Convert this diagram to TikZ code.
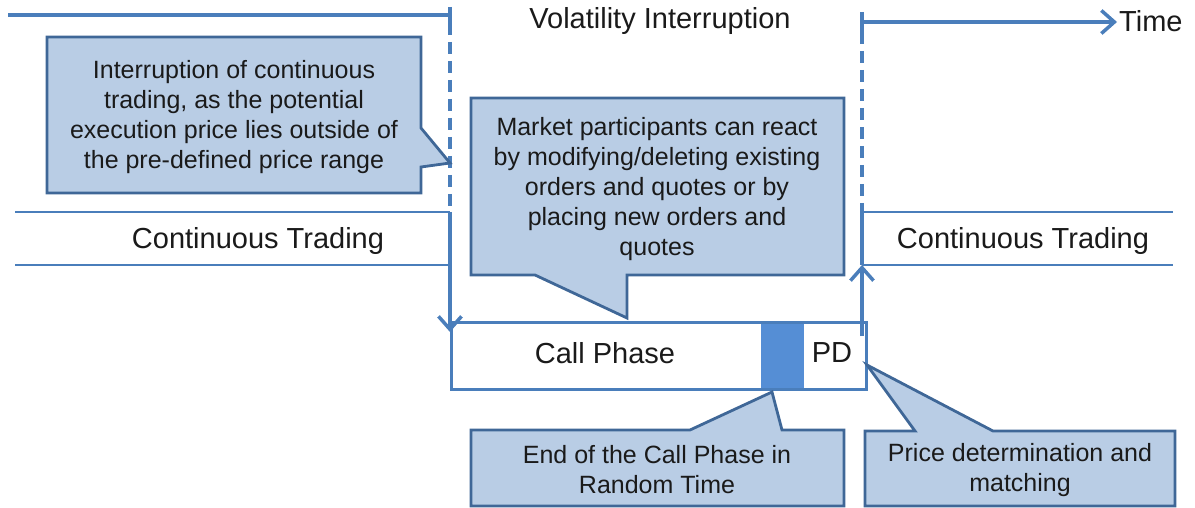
\documentclass[tikz,border=0pt]{standalone}
\usepackage{fontspec}
\setmainfont{Liberation Sans}
\usetikzlibrary{arrows.meta}
\definecolor{lineblue}{HTML}{4A7EBB}
\definecolor{callfill}{HTML}{B9CDE5}
\definecolor{callborder}{HTML}{3F6797}
\definecolor{phasefill}{HTML}{558ED5}
\definecolor{txt}{HTML}{1A1A1A}
\begin{document}
\begin{tikzpicture}[x=1pt,y=-1pt,
  bigtext/.style={font=\fontsize{29}{34}\selectfont, text=txt, inner sep=0pt},
  calltext/.style={font=\fontsize{25}{30}\selectfont, text=txt, align=center, inner sep=0pt},
  calloutshape/.style={fill=callfill, draw=callborder, line width=2.8pt, line join=miter},
  tline/.style={draw=lineblue, line width=3.5pt},
  dline/.style={draw=lineblue, line width=3.5pt, dash pattern=on 12pt off 7pt},
  lane/.style={draw=lineblue, line width=2.5pt},
  arr/.style={-{Straight Barb[length=13pt,width=23pt,line width=3.5pt]}}
]
\useasboundingbox (0,0) rectangle (1195,508);

% timeline
\coordinate (tlA) at (8,15);
\coordinate (tlB) at (450,15);
\coordinate (tlC) at (862,22);
\coordinate (tlD) at (1117,22);
\draw[tline] (tlA) -- (tlB);
\draw[tline] (450,7) -- (450,23);
\draw[tline] (862,12) -- (862,32);
\draw[tline,arr] (tlC) -- (tlD);
\node[bigtext, anchor=west] (time) at (1119,21) {Time};
\node[bigtext] (vi) at (660,21) {Volatility Interruption};

% dashed boundaries
\coordinate (lTop) at (450,23);
\coordinate (lLane) at (450,212);
\coordinate (rTop) at (862,32);
\coordinate (rLane) at (862,212);
\draw[dline] (lTop) -- (lLane);
\draw[dline] (rTop) -- (rLane);

% lanes
\draw[lane] (15,212) -- (450,212);
\draw[lane] (15,265) -- (450,265);
\draw[lane] (862,212) -- (1173,212);
\draw[lane] (862,265) -- (1173,265);
\node[bigtext] (ctl) at (258,241) {Continuous Trading};
\node[bigtext] (ctr) at (1023,241) {Continuous Trading};

% call phase box
\fill[phasefill] (761,321) rectangle (804,388);
\node[draw=lineblue, line width=3pt, minimum width=415pt, minimum height=67pt,
      anchor=north west, inner sep=0pt] (phase) at (450,321) {};
\node[bigtext] (cp) at (605,353) {Call Phase};
\node[bigtext] (pd) at (832,353) {PD};

% arrows to / from call phase
\coordinate (lArr) at (450,332);
\coordinate (rBot) at (862,336);
\coordinate (rArr) at (862,265);
\draw[tline,arr] (lLane) -- (lArr);
\draw[tline] (rLane) -- (rArr);
\draw[tline,arr] (rBot) -- (rArr);

% callout 1
\draw[calloutshape] (47,37) -- (421,37) -- (421,128) -- (450,163) -- (421,167)
  -- (421,193) -- (47,193) -- cycle;
\node[calltext] (c1) at (234,117) {Interruption of continuous\\trading, as the potential\\execution price lies outside of\\the pre-defined price range};

% callout 2
\draw[calloutshape] (471,98) -- (844,98) -- (844,275) -- (627,275) -- (627,318)
  -- (535,275) -- (471,275) -- cycle;
\node[calltext] (c2) at (657,189) {Market participants can react\\by modifying/deleting existing\\orders and quotes or by\\placing new orders and\\quotes};

% callout 3
\draw[calloutshape] (471,430) -- (690,430) -- (772,392) -- (782,430) -- (844,430)
  -- (844,506) -- (471,506) -- cycle;
\node[calltext] (c3) at (657,470) {End of the Call Phase in\\Random Time};

% callout 4
\draw[calloutshape] (865,431) -- (915,431) -- (867,365) -- (993,431) -- (1175,431)
  -- (1175,506) -- (865,506) -- cycle;
\node[calltext] (c4) at (1020,470) {Price determination and\\matching};
\end{tikzpicture}
\end{document}
